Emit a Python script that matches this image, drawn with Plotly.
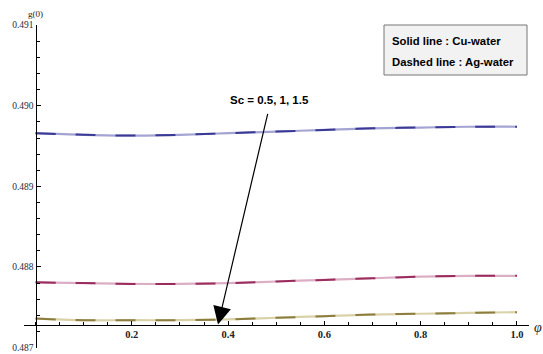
import plotly.graph_objects as go

# ---- data ----
phi = [0.0, 0.1, 0.2, 0.3, 0.4, 0.5, 0.6, 0.7, 0.8, 0.9, 1.0]
cu_sc05 = [0.48966, 0.48964, 0.48963, 0.48964, 0.48966, 0.48968, 0.48970, 0.48972, 0.48973, 0.48974, 0.48974]
ag_sc05 = [0.48966, 0.48964, 0.48963, 0.48964, 0.48966, 0.48968, 0.48970, 0.48972, 0.48973, 0.48974, 0.48974]
cu_sc10 = [0.48781, 0.48780, 0.48779, 0.48779, 0.48780, 0.48782, 0.48784, 0.48786, 0.48788, 0.48789, 0.48789]
ag_sc10 = [0.48781, 0.48780, 0.48779, 0.48779, 0.48780, 0.48782, 0.48784, 0.48786, 0.48788, 0.48789, 0.48789]
cu_sc15 = [0.48736, 0.48734, 0.48734, 0.48734, 0.48735, 0.48737, 0.48739, 0.48741, 0.48742, 0.48743, 0.48744]
ag_sc15 = [0.48736, 0.48734, 0.48734, 0.48734, 0.48735, 0.48737, 0.48739, 0.48741, 0.48742, 0.48743, 0.48744]
x_ticks = [0.2, 0.4, 0.6, 0.8, 1.0]
x_ticktext = ["0.2", "0.4", "0.6", "0.8", "1.0"]
y_ticks = [0.487, 0.488, 0.489, 0.490, 0.491]
y_ticktext = ["0.487", "0.488", "0.489", "0.490", "0.491"]
legend_lines = ["Solid line : Cu-water", "Dashed line : Ag-water"]
sc_label = "Sc = 0.5, 1, 1.5"

# ---- layout geometry (pixels) ----
W, H = 543, 354
L, R, T, B = 24, 14, 25, 6
PW, PH = W - L - R, H - T - B
def px(x):
    return (x - L) / PW
def py(y):
    return (H - B - y) / PH

solid_cols = ["#a4a4d4", "#dcaec4", "#d9d2a8"]
dash_cols = ["#3a3a96", "#9a2d5e", "#8c7d3e"]

fig = go.Figure()
for ys, c in zip([cu_sc05, cu_sc10, cu_sc15], solid_cols):
    fig.add_trace(go.Scatter(x=phi, y=ys, mode="lines", line=dict(color=c, width=2.2, shape="spline"),
                             showlegend=False, hoverinfo="skip"))
for ys, c in zip([ag_sc05, ag_sc10, ag_sc15], dash_cols):
    fig.add_trace(go.Scatter(x=phi, y=ys, mode="lines",
                             line=dict(color=c, width=2, dash="20px,20px", shape="spline"),
                             showlegend=False, hoverinfo="skip"))

x0, x1 = -0.0239, 1.025
y0, y1 = 0.486995, 0.491002
x_axis_val = 0.487285

fig.update_layout(
    width=W, height=H,
    margin=dict(l=L, r=R, t=T, b=B),
    paper_bgcolor="white", plot_bgcolor="white",
    xaxis=dict(range=[x0, x1], anchor="free", position=(x_axis_val - y0) / (y1 - y0),
               showgrid=False, zeroline=False, showline=True, linecolor="black", linewidth=1,
               tickvals=x_ticks, ticktext=x_ticktext, ticks="inside", ticklen=4, tickcolor="black",
               tickfont=dict(family="Liberation Serif", size=10.5, color="#222", weight="bold"),
               minor=dict(dtick=0.05, tick0=0, ticks="inside", ticklen=3, tickcolor="black"),
               automargin=False),
    yaxis=dict(range=[y0, y1], anchor="free", position=(0 - x0) / (x1 - x0),
               showgrid=False, zeroline=False, showline=True, linecolor="black", linewidth=1,
               tickvals=y_ticks, ticktext=y_ticktext, ticks="inside", ticklen=4, tickcolor="black",
               tickfont=dict(family="Liberation Serif", size=9.5, color="#2a2a40"),
               ticklabeloverflow="allow",
               minor=dict(dtick=0.0002, tick0=0.487, ticks="inside", ticklen=3, tickcolor="black"),
               automargin=False),
)

# legend box
fig.add_shape(type="rect", xref="paper", yref="paper",
              x0=px(384), x1=px(527), y0=py(75), y1=py(25),
              fillcolor="#f2f2f2", line=dict(color="#777", width=1))
for txt, yy in zip(legend_lines, [41, 62]):
    fig.add_annotation(xref="paper", yref="paper", x=px(390), y=py(yy), text=txt, showarrow=False,
                       xanchor="left", yanchor="middle",
                       font=dict(family="Liberation Sans", size=11.3, color="black", weight="bold"))

# Sc label and arrow
fig.add_annotation(xref="paper", yref="paper", x=px(269), y=py(100), text=sc_label, showarrow=False,
                   xanchor="center", yanchor="middle",
                   font=dict(family="Liberation Sans", size=11.5, color="black", weight="bold"))
fig.add_annotation(x=0.379, y=x_axis_val, ax=0.483, ay=0.489919, axref="x", ayref="y",
                   xref="x", yref="y", text="", showarrow=True,
                   arrowhead=2, arrowsize=3, arrowwidth=1.2, arrowcolor="black")

# axis labels
fig.add_annotation(xref="paper", yref="paper", x=px(35.5), y=py(14), text="g(0)", showarrow=False,
                   xanchor="center", yanchor="middle",
                   font=dict(family="Liberation Serif", size=9, color="#222"))
fig.add_annotation(xref="paper", yref="paper", x=px(538), y=py(327), text="<i>φ</i>", showarrow=False,
                   xanchor="center", yanchor="middle",
                   font=dict(family="Liberation Serif", size=14, color="#222"))

fig.write_html("out.html", config={"displayModeBar": False},
               post_script="document.body.style.margin='0';")
